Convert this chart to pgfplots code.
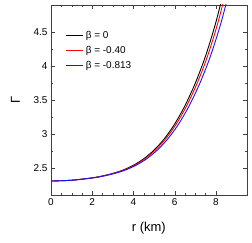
\documentclass[border=0pt]{standalone}
\usepackage{pgfplots}
\pgfplotsset{compat=1.18}
\usepackage{fontspec}
\setmainfont{Liberation Sans}
\setsansfont{Liberation Sans}
\definecolor{lblue}{RGB}{20,20,255}
\begin{document}
\begin{tikzpicture}
\begin{axis}[
  at={(0,0)}, anchor=south west,
  scale only axis, width=195.7bp, height=190.3bp,
  xmin=0, xmax=9.5, ymin=2.1, ymax=4.9,
  xtick={0,2,4,6,8}, ytick={2.5,3,3.5,4,4.5},
  minor x tick num=3, minor y tick num=1,
  tick align=inside, major tick length=4bp, minor tick length=2bp,
  axis line style={black!75}, tick style={black!75},
  /pgf/number format/assume math mode=true,
  ticklabel style={font=\fontsize{10}{12}\selectfont},
  yticklabel style={/pgf/number format/fixed, /pgf/number format/precision=1},
  xlabel={r (km)}, ylabel={Γ},
  xlabel style={font=\fontsize{13}{15}\selectfont, yshift=-9bp},
  ylabel style={font=\fontsize{13}{15}\selectfont, yshift=7bp},
  legend style={draw=none, fill=none, at={(0.06,0.885)}, anchor=north west,
    font=\fontsize{10}{12}\selectfont, row sep=2.5bp},
  legend cell align=left,
  clip=true,
]
\addplot[black, line width=0.9pt, smooth] coordinates {
(0,2.310) (1,2.322) (2,2.357) (2.5,2.385) (3,2.422) (3.5,2.472) (4,2.542) (4.5,2.637)
(5,2.765) (5.5,2.932) (6,3.147) (6.5,3.417) (7,3.747) (7.5,4.147) (8,4.642) (8.5,5.242)};
\addlegendentry{β = 0}
\addplot[red, line width=0.9pt, smooth] coordinates {
(0,2.310) (1.013,2.322) (2.026,2.357) (2.533,2.385) (3.039,2.422) (3.546,2.472) (4.052,2.542) (4.559,2.637)
(5.065,2.765) (5.572,2.932) (6.078,3.147) (6.585,3.417) (7.091,3.747) (7.598,4.147) (8.104,4.642) (8.611,5.242)};
\addlegendentry{β = -0.40}
\addplot[lblue, line width=0.9pt, smooth] coordinates {
(0,2.310) (1.032,2.322) (2.064,2.357) (2.58,2.385) (3.096,2.422) (3.612,2.472) (4.128,2.542) (4.644,2.637)
(5.16,2.765) (5.676,2.932) (6.192,3.147) (6.708,3.417) (7.224,3.747) (7.74,4.147) (8.256,4.642) (8.772,5.242)};
\addlegendentry{β = -0.813}
\end{axis}
\pgfresetboundingbox
\path (-51bp,-47.7bp) rectangle (201bp,195.3bp);
\end{tikzpicture}
\end{document}
